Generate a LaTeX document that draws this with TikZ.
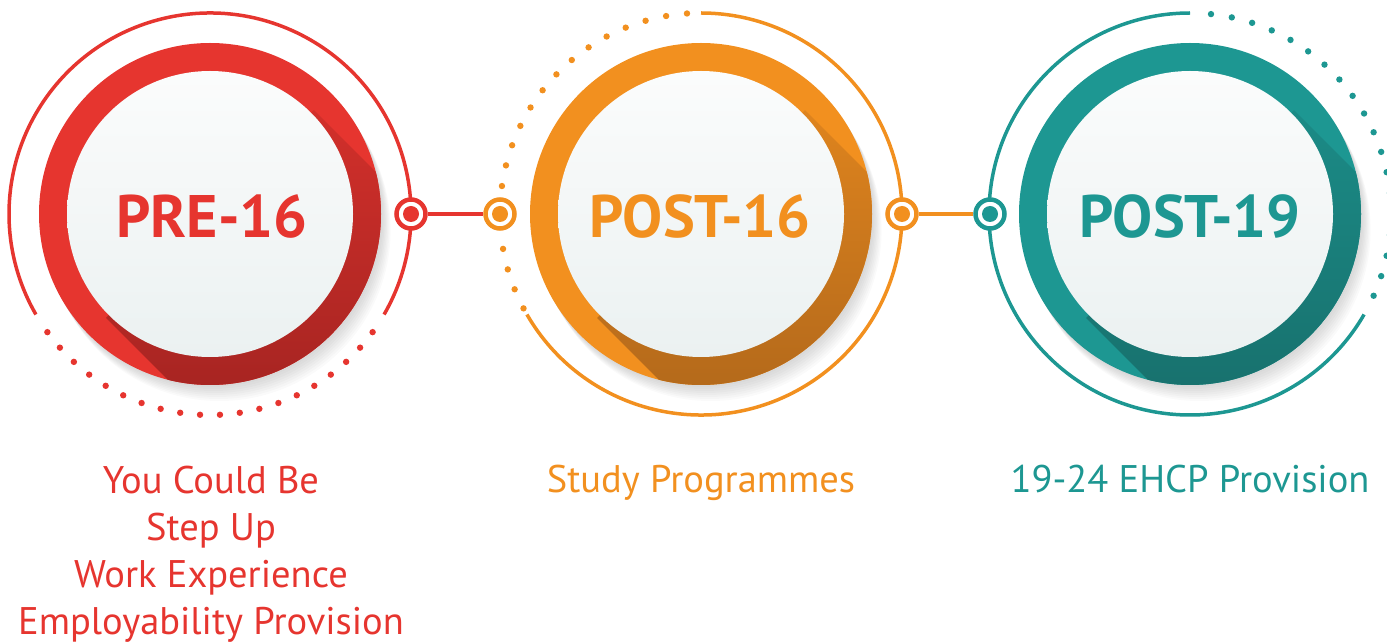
\documentclass[tikz,border=0pt]{standalone}
\usepackage{fontspec}
\setmainfont{PT Sans}
\definecolor{myred}{HTML}{E6352F}
\definecolor{myredD}{HTML}{96201E}
\definecolor{myorange}{HTML}{F2901F}
\definecolor{myorangeD}{HTML}{A35F1A}
\definecolor{myteal}{HTML}{1D9792}
\definecolor{mytealD}{HTML}{166764}
\definecolor{discTop}{HTML}{FBFCFC}
\definecolor{discBot}{HTML}{EBF1F1}

\begin{document}
\begin{tikzpicture}[x=1pt, y=1pt,
        joint/.style={circle, draw=#1, line width=4.5pt, fill=white, minimum size=29pt, inner sep=0pt,
            path picture={\fill[#1] (path picture bounding box.center) circle (8);}},
        title/.style={font=\fontsize{60}{60}\selectfont\bfseries, text=#1, inner sep=0pt},
        list/.style={font=\fontsize{38.5}{47}\selectfont, text=#1, align=center, anchor=base, inner sep=0pt}]
    \useasboundingbox (0,0) rectangle (1387,643);

    % soft grey shadows
    \foreach \cx in {210,701,1190}
        \foreach \s in {2,4,...,16}
            \fill[black, opacity=0.02] (\cx+\s*0.6,429-\s) circle (171);

    % thick discs with long shadow
    \fill[myred] (210,429) circle (171);
    \begin{scope}
        \clip (210,429) circle (171);
        \begin{scope}[shift={(210,429)}, rotate=-45]
            \shade[top color=myred!75!myredD, bottom color=myredD] (0,-147) rectangle (260,147);
        \end{scope}
    \end{scope}
    \shade[top color=discTop, bottom color=discBot] (210,429) circle (143);

    \fill[myorange] (701,429) circle (171);
    \begin{scope}
        \clip (701,429) circle (171);
        \begin{scope}[shift={(701,429)}, rotate=-45]
            \shade[top color=myorange!75!myorangeD, bottom color=myorangeD] (0,-147) rectangle (260,147);
        \end{scope}
    \end{scope}
    \shade[top color=discTop, bottom color=discBot] (701,429) circle (143);

    \fill[myteal] (1190,429) circle (171);
    \begin{scope}
        \clip (1190,429) circle (171);
        \begin{scope}[shift={(1190,429)}, rotate=-45]
            \shade[top color=myteal!75!mytealD, bottom color=mytealD] (0,-147) rectangle (260,147);
        \end{scope}
    \end{scope}
    \shade[top color=discTop, bottom color=discBot] (1190,429) circle (143);

    \node[title=myred] (pre) at (212,426) {PRE-16};
    \node[title=myorange] (post) at (700,426) {POST-16};
    \node[title=myteal] (nine) at (1190,426) {POST-19};

    % outer rings
    \draw[myred, line width=3.5pt] (210,429) ++(-30:201) arc (-30:210:201);
    \foreach \a in {0,...,19}
        \fill[myred] (210,429) ++({216+\a*108/19}:201) circle (3.2);

    \draw[myorange, line width=3.5pt] (701,429) ++(-150:201) arc (-150:90:201);
    \foreach \a in {94,100,...,172,190,196,202,208}
        \fill[myorange] (701,429) ++(\a:201) circle (3.2);

    \draw[myteal, line width=3.5pt] (1190,429) ++(90:201) arc (90:330:201);
    \foreach \a in {0,...,18}
        \fill[myteal] (1190,429) ++({84-\a*6}:201) circle (3.2);

    % joints
    \node[joint=myred] (preJ) at (411,429) {};
    \node[joint=myorange] (postJa) at (500,429) {};
    \node[joint=myorange] (postJb) at (902,429) {};
    \node[joint=myteal] (nineJ) at (990,429) {};
    \draw[myred, line width=4pt] (preJ) -- (postJa);
    \draw[myorange, line width=4pt] (postJb) -- (nineJ);

    % labels
    \node[list=myred] (preList) at (211,9) {You Could Be\\Step Up\\Work Experience\\Employability Provision};
    \node[list=myorange] (postList) at (701,150) {Study Programmes};
    \node[list=myteal] (nineList) at (1190,150) {19-24 EHCP Provision};
\end{tikzpicture}
\end{document}
